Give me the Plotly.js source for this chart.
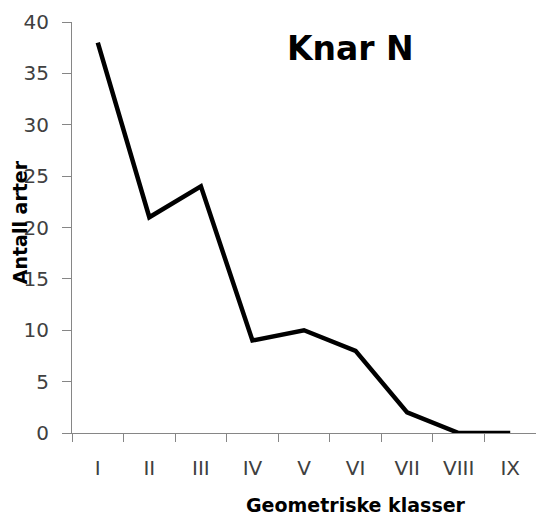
<!DOCTYPE html>
<html>
<head>
<meta charset="utf-8">
<script src="https://cdn.plot.ly/plotly-3.0.1.min.js"></script>
<style>html,body{margin:0;padding:0;background:#fff;}#chart{width:536px;height:517px;}</style>
</head>
<body>
<div id="chart"></div>
<script>
const categories = ["I", "II", "III", "IV", "V", "VI", "VII", "VIII", "IX"];
const antallArter = [38, 21, 24, 9, 10, 8, 2, 0, 0];
const yTicks = [0, 5, 10, 15, 20, 25, 30, 35, 40];
const chartTitle = "Knar N";
const xTitle = "Geometriske klasser";
const yTitle = "Antall arter";

const trace = {
  x: categories,
  y: antallArter,
  type: "scatter",
  mode: "lines",
  line: {color: "#000000", width: 4.5},
  hoverinfo: "skip"
};

const layout = {
  width: 536, height: 517,
  margin: {l: 72, r: 0, t: 22, b: 84},
  paper_bgcolor: "#ffffff",
  plot_bgcolor: "#ffffff",
  showlegend: false,
  font: {family: "DejaVu Sans", color: "#404040", size: 20},
  xaxis: {
    type: "category",
    range: [-0.5, 8.5],
    tickson: "boundaries",
    ticks: "outside",
    ticklen: 8,
    tickcolor: "#868686",
    tickwidth: 1,
    showline: true,
    linecolor: "#868686",
    linewidth: 1,
    showgrid: false,
    zeroline: false,
    tickfont: {family: "DejaVu Sans", size: 20, color: "#404040"},
    ticklabelstandoff: 17
  },
  yaxis: {
    range: [0, 40],
    tickvals: yTicks,
    ticks: "outside",
    ticklen: 9,
    tickcolor: "#868686",
    tickwidth: 1,
    showline: true,
    linecolor: "#868686",
    linewidth: 1,
    showgrid: false,
    zeroline: false,
    tickfont: {family: "DejaVu Sans", size: 20, color: "#404040"},
    ticklabelstandoff: 9
  },
  annotations: [
    {text: "<b>" + chartTitle + "</b>", xref: "paper", yref: "paper", x: 0.601, y: 0.935,
     xanchor: "center", yanchor: "middle", showarrow: false,
     font: {family: "DejaVu Sans", size: 33, color: "#000000"}},
    {text: "<b>" + xTitle + "</b>", xref: "paper", yref: "paper", x: 0.612, y: -0.175,
     xanchor: "center", yanchor: "middle", showarrow: false,
     font: {family: "DejaVu Sans", size: 19, color: "#000000"}},
    {text: "<b>" + yTitle + "</b>", xref: "paper", yref: "paper", x: -0.112, y: 0.513,
     xanchor: "center", yanchor: "middle", showarrow: false, textangle: -90,
     font: {family: "DejaVu Sans", size: 19, color: "#000000"}}
  ]
};

Plotly.newPlot("chart", [trace], layout, {displayModeBar: false, staticPlot: true});
</script>
</body>
</html>
